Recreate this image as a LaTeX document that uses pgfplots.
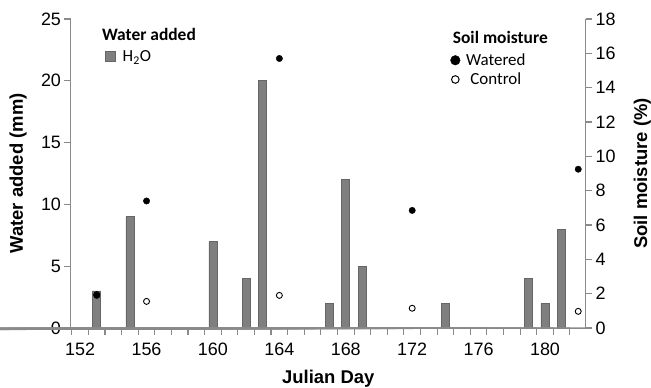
\documentclass[border=0pt]{standalone}
\usepackage{fontspec}
\setmainfont{Liberation Sans}
\newfontfamily\calibri{Carlito}
\usepackage{pgfplots}
\pgfplotsset{compat=1.18}
\definecolor{bargray}{HTML}{7F7F7F}
\definecolor{baredge}{HTML}{666666}
\definecolor{axgray}{HTML}{8A8A8A}
\begin{document}
\begin{tikzpicture}
\useasboundingbox (-71bp,-60bp) rectangle (580bp,328bp);
\pgfplotsset{
  common/.style={
    width=514.7bp, height=309bp, scale only axis,
    at={(0,0)}, anchor=south west,
    xmin=151.45, xmax=182.45,
    /pgf/number format/assume math mode=true,
    tick label style={font=\fontsize{18}{20}\selectfont},
    label style={font=\bfseries\fontsize{18.5}{20}\selectfont},
    axis line style={-, draw=axgray, line width=1bp},
    clip=false,
  },
  myticks/.style={
    xtick align=outside, ytick align=outside,
    tick style={draw=axgray, line width=1.1bp},
    major tick length=6.5bp,
    minor tick length=6.5bp,
  }
}
\begin{axis}[common,
  axis x line*=bottom, axis y line*=left,
  myticks,
  ymin=0, ymax=25, ytick={0,5,...,25},
  xtick={151.5,152.5,...,182.5},
  xticklabels={152,,,,156,,,,160,,,,164,,,,168,,,,172,,,,176,,,,180,,,},
  xticklabel style={yshift=-5bp, xshift=8.3bp},
  xlabel={Julian Day},
  xlabel style={at={(axis description cs:0.5,-0.18)}, anchor=base, inner sep=0pt},
  ylabel={Water added (mm)},
  ylabel style={at={(axis description cs:-0.12,0.5)}, anchor=north, inner sep=0pt, rotate=0},
  legend style={at={(rel axis cs:0.066,0.905)}, anchor=north west, draw=none, fill=none,
    inner sep=0pt, font=\calibri\fontsize{17}{18}\selectfont,
    /tikz/every odd column/.append style={column sep=5bp}},
  legend image code/.code={\draw[#1] (0bp,-5bp) rectangle (10bp,5bp);},
]
\addplot[ybar, bar width=8bp, fill=bargray, draw=baredge, line width=0.6bp] coordinates {
(153,3) (155,9) (160,7) (162,4) (163,20) (167,2) (168,12) (169,5) (174,2) (179,4) (180,2) (181,8)};
\addlegendentry{H\textsubscript{2}O}
\pgfplotsinvokeforeach{151.5,152.5,...,182.5}{\draw[axgray, line width=1.1bp] (axis cs:#1,0) -- ++(0,-6.5bp);}
\node[anchor=base west, inner sep=0pt, font=\calibri\bfseries\fontsize{17.5}{18}\selectfont] at (rel axis cs:0.060,0.930) {Water added};
\node[anchor=base west, inner sep=0pt, font=\calibri\bfseries\fontsize{17.5}{18}\selectfont] at (rel axis cs:0.7416,0.922) {Soil moisture};
\end{axis}
\begin{axis}[common,
  axis x line=none, axis y line*=right,
  myticks,
  ymin=0, ymax=18, ytick={0,2,...,18},
  ylabel={Soil moisture (\%)},
  ylabel style={at={(axis description cs:1.093,0.5)}, anchor=north, inner sep=0pt, rotate=0},
  legend style={at={(rel axis cs:0.737,0.895)}, anchor=north west, draw=none, fill=none,
    inner sep=0pt, font=\calibri\fontsize{17}{18}\selectfont,
    /tikz/every odd column/.append style={column sep=4bp},
    row sep=2bp},
  legend image code/.code={\draw[mark repeat=2,mark phase=2,#1] plot coordinates {(0bp,0bp) (5bp,0bp) (10bp,0bp)};},
]
\addplot[only marks, mark=o, mark size=3bp, mark options={fill=white, draw=black, line width=0.9bp}, forget plot] coordinates {
(153,1.95) (156,1.55) (164,1.9) (172,1.15) (182,0.97)};
\addplot[only marks, mark=*, mark size=3.2bp, mark options={fill=black, draw=black}, forget plot] coordinates {
(153,1.9) (156,7.4) (164,15.7) (172,6.85) (182,9.25)};
\addlegendimage{only marks, mark=*, mark size=4.8bp, mark options={fill=black, draw=black}}
\addlegendentry{Watered}
\addlegendimage{only marks, mark=*, mark size=3.8bp, mark options={fill=white, draw=black, line width=1bp}}
\addlegendentry{Control}
\end{axis}
\end{tikzpicture}
\end{document}
